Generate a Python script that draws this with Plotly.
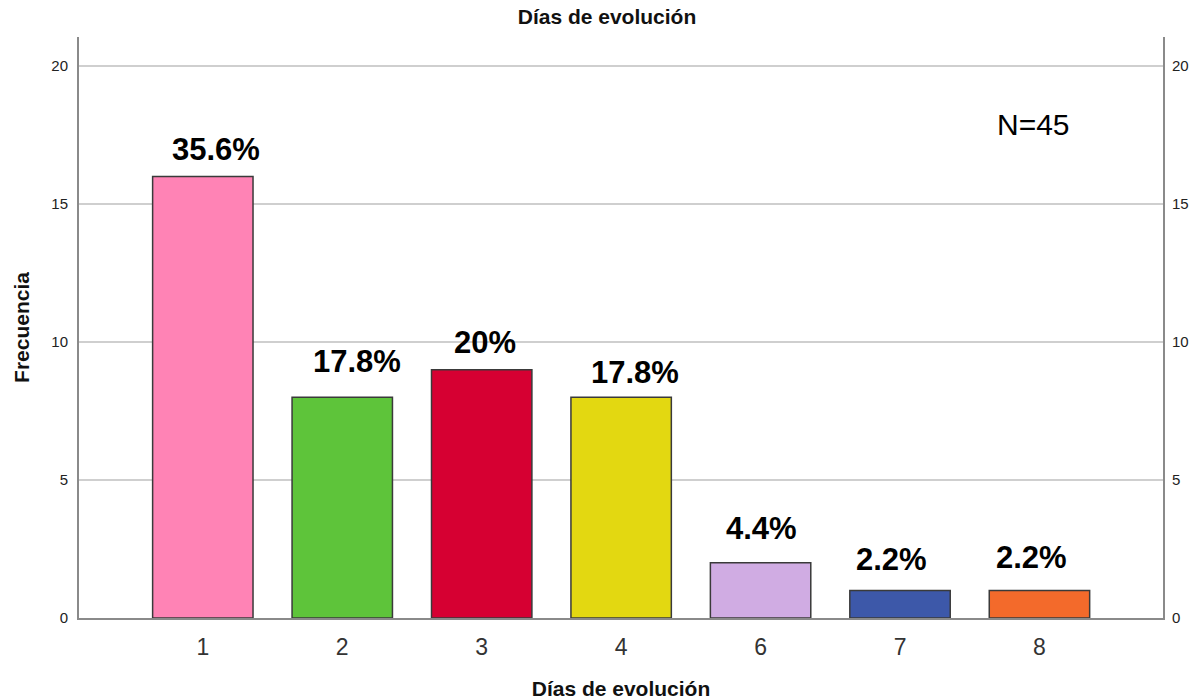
import plotly.graph_objects as go

categories = ["1", "2", "3", "4", "6", "7", "8"]
frequencies = [16, 8, 9, 8, 2, 1, 1]
percent_labels = ["35.6%", "17.8%", "20%", "17.8%", "4.4%", "2.2%", "2.2%"]
n_label = "N=45"
title_text = "Días de evolución"
x_title = "Días de evolución"
y_title = "Frecuencia"
y_ticks = [0, 5, 10, 15, 20]

bar_colors = ["#FF83B5", "#5EC43A", "#D60032", "#E3D811", "#D0ACE3", "#3D58A9", "#F36A2B"]
label_dx = [13, 15, 3, 14, 1, -9, -8]
label_gap = [17, 25, 17, 14, 24, 20, 22]

FONT = "Liberation Sans, Arial, sans-serif"

fig = go.Figure()
fig.add_trace(go.Bar(
    x=categories, y=frequencies,
    marker=dict(color=bar_colors, line=dict(color="#3a3a3a", width=1.5)),
    width=0.72, hoverinfo="skip", showlegend=False,
))
# invisible trace to activate the right-hand axis
fig.add_trace(go.Scatter(x=categories, y=frequencies, yaxis="y2", mode="markers",
                         marker=dict(opacity=0), hoverinfo="skip", showlegend=False))

for i, (v, t) in enumerate(zip(frequencies, percent_labels)):
    fig.add_annotation(x=i, y=v, text=f"<b>{t}</b>", showarrow=False,
                       xanchor="center", yanchor="bottom",
                       xshift=label_dx[i], yshift=label_gap[i] - 9,
                       font=dict(family=FONT, size=31, color="#000000"))

fig.add_annotation(x=(1033 - 79) / (1163 - 79), y=(618 - 124) / (618 - 37),
                   xref="paper", yref="paper", text=n_label,
                   showarrow=False, xanchor="center", yanchor="middle",
                   font=dict(family=FONT, size=30, color="#000000"))

yrange = [0, 21.06]
axis_common = dict(range=yrange, tickvals=y_ticks, showline=True, linecolor="#8a8a8a",
                   linewidth=2, ticks="", zeroline=False, automargin=False,
                   tickfont=dict(family=FONT, size=15, color="#222222"))

fig.update_layout(
    width=1194, height=700,
    margin=dict(l=79, r=31, t=37, b=82, autoexpand=False),
    paper_bgcolor="white", plot_bgcolor="white",
    title=dict(text=f"<b>{title_text}</b>", x=607 / 1194, xanchor="center",
               y=1 - 17 / 700, yanchor="middle",
               font=dict(family=FONT, size=21, color="#111111")),
    xaxis=dict(type="category", categoryarray=categories, range=[-0.888, 6.886],
               showline=True, linecolor="#8a8a8a", linewidth=2, ticks="",
               showgrid=False, automargin=False, ticklabelstandoff=7,
               tickfont=dict(family=FONT, size=23, color="#333333"),
               title=dict(text=f"<b>{x_title}</b>", standoff=30,
                          font=dict(family=FONT, size=21, color="#111111"))),
    yaxis=dict(**axis_common, showgrid=True, gridcolor="#cfcfcf", gridwidth=2,
               ticklabelstandoff=6,
               title=dict(text=f"<b>{y_title}</b>", standoff=16,
                          font=dict(family=FONT, size=21, color="#111111"))),
    yaxis2=dict(**axis_common, overlaying="y", side="right", showgrid=False,
                ticklabelstandoff=4),
    bargap=0.28,
)

fig.write_html("out.html")
